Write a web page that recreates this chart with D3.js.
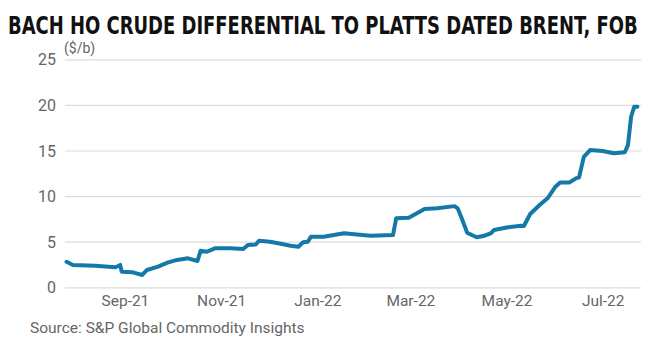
<!DOCTYPE html>
<html>
<head>
<meta charset="utf-8">
<script src="https://cdn.jsdelivr.net/npm/d3@7"></script>
<style>
  body { margin: 0; background: #fff; }
  svg { display: block; }
  .tick text { font-family: Roboto, "Noto Sans", sans-serif; fill: #666; }
</style>
</head>
<body>
<svg id="chart" width="652" height="351"></svg>
<script>
// Bach Ho differential to Dated Brent ($/b)
let dates = [
  "2021-07-26", "2021-07-30", "2021-08-13", "2021-08-26", "2021-08-29", "2021-08-30",
  "2021-09-06", "2021-09-12", "2021-09-15", "2021-09-22", "2021-09-28", "2021-10-04",
  "2021-10-11", "2021-10-17", "2021-10-19", "2021-10-23", "2021-10-28", "2021-11-07",
  "2021-11-15", "2021-11-18", "2021-11-23", "2021-11-25", "2021-12-02", "2021-12-08",
  "2021-12-15", "2021-12-20", "2021-12-23", "2021-12-26", "2021-12-28", "2022-01-05",
  "2022-01-18", "2022-01-26", "2022-02-04", "2022-02-18", "2022-02-20", "2022-02-28",
  "2022-03-10", "2022-03-18", "2022-03-29", "2022-03-31", "2022-04-03", "2022-04-06",
  "2022-04-12", "2022-04-17", "2022-04-21", "2022-04-23", "2022-05-02", "2022-05-10",
  "2022-05-12", "2022-05-16", "2022-05-22", "2022-05-27", "2022-06-01", "2022-06-04",
  "2022-06-10", "2022-06-14", "2022-06-16", "2022-06-19", "2022-06-23", "2022-07-01",
  "2022-07-08", "2022-07-15", "2022-07-17", "2022-07-19", "2022-07-21", "2022-07-23"
];
let values = [
  2.8, 2.45, 2.37, 2.2, 2.45, 1.7,
  1.64, 1.35, 1.9, 2.26, 2.7, 3.0,
  3.18, 2.88, 4.0, 3.9, 4.27, 4.27,
  4.2, 4.64, 4.7, 5.1, 5.0, 4.8,
  4.56, 4.45, 4.93, 5.0, 5.55, 5.55,
  5.92, 5.8, 5.66, 5.73, 7.56, 7.63,
  8.58, 8.66, 8.9, 8.66, 7.38, 5.99,
  5.48, 5.66, 5.92, 6.28, 6.58, 6.75,
  6.72, 8.04, 9.02, 9.76, 11.03, 11.5,
  11.5, 11.95, 12.06, 14.3, 15.05, 14.95,
  14.7, 14.8, 15.6, 18.7, 19.8, 19.8
];
let yTicks = [0, 5, 10, 15, 20, 25];

let title = "BACH HO CRUDE DIFFERENTIAL TO PLATTS DATED BRENT, FOB";
let unit = "($/b)";
let source = "Source: S&P Global Commodity Insights";

let parse = d3.timeParse("%Y-%m-%d");
let data = dates.map((d, i) => ({ date: parse(d), value: values[i] }));

let svg = d3.select("#chart");

let x = d3.scaleTime()
  .domain([parse("2021-07-25"), parse("2022-07-24")])
  .range([65, 639]);

let y = d3.scaleLinear()
  .domain([0, 25])
  .range([287.3, 59.3]);

// gridlines + y labels
let yAxis = svg.append("g")
  .attr("transform", "translate(65,0)")
  .call(d3.axisLeft(y).tickValues(yTicks).tickSize(-576).tickPadding(9));
yAxis.select(".domain").remove();
yAxis.selectAll(".tick line").attr("stroke", "#dcdcdc").attr("stroke-width", 1.2);
yAxis.selectAll(".tick text").attr("font-size", 16).attr("dy", "0.35em");

// x labels
let xAxis = svg.append("g")
  .attr("transform", "translate(0,287.3)")
  .call(d3.axisBottom(x).ticks(d3.timeMonth.every(2)).tickFormat(d3.timeFormat("%b-%y")).tickSize(0).tickPadding(8));
xAxis.select(".domain").remove();
xAxis.selectAll(".tick text").attr("font-size", 15.5).attr("dy", "0.71em");

// line
let line = d3.line()
  .x(d => x(d.date))
  .y(d => y(d.value));

svg.append("path")
  .datum(data)
  .attr("d", line)
  .attr("fill", "none")
  .attr("stroke", "#1479a8")
  .attr("stroke-width", 4)
  .attr("stroke-linejoin", "round")
  .attr("stroke-linecap", "round");

// title - squeeze horizontally so it spans the same width as the original
let titleText = svg.append("text")
  .attr("x", 0)
  .attr("y", 0)
  .style("font-family", "'Liberation Sans Narrow', 'DejaVu Sans Condensed', 'Roboto', sans-serif")
  .style("font-weight", "bold")
  .style("font-size", "25px")
  .style("fill", "#111")
  .text(title);
let natural = titleText.node().getComputedTextLength();
titleText.attr("transform", "translate(8,34) scale(" + (630 / natural) + ",1)");

svg.append("text")
  .attr("x", 64)
  .attr("y", 53)
  .style("font-family", "Roboto, sans-serif")
  .style("font-size", "14px")
  .style("fill", "#666")
  .text(unit);

svg.append("text")
  .attr("x", 30)
  .attr("y", 333)
  .style("font-family", "Roboto, sans-serif")
  .style("font-size", "15.5px")
  .style("fill", "#666")
  .text(source);
</script>
</body>
</html>
